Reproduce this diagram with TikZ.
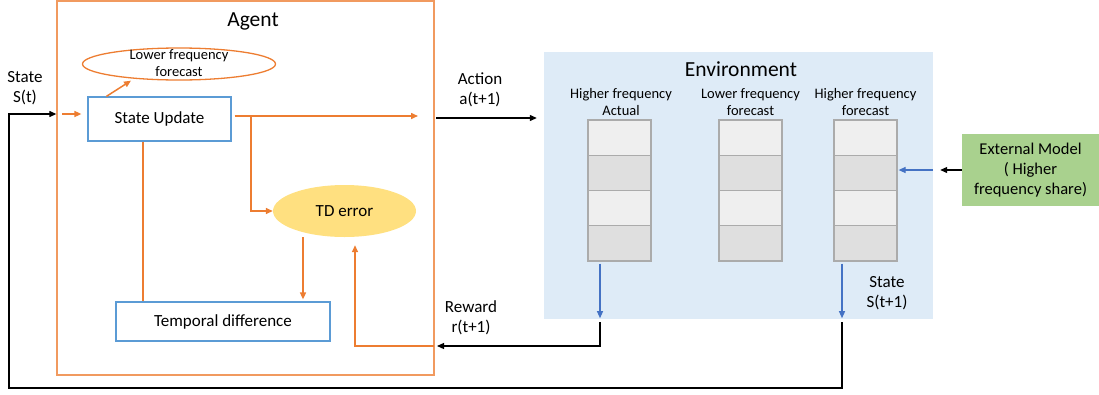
\documentclass[tikz,border=0pt]{standalone}
\usepackage{fontspec}
\setmainfont{Carlito}
\usetikzlibrary{arrows.meta, shapes.geometric}

\definecolor{agentframe}{HTML}{F19A5F}
\definecolor{orangeline}{HTML}{ED7D31}
\definecolor{boxblue}{HTML}{5B9BD5}
\definecolor{arrowblue}{HTML}{4472C4}
\definecolor{tdfill}{HTML}{FFE080}
\definecolor{envfill}{HTML}{DEEBF7}
\definecolor{cellA}{HTML}{EFEFEF}
\definecolor{cellB}{HTML}{DFDFDF}
\definecolor{cellline}{HTML}{ABABAB}
\definecolor{extfill}{HTML}{A9D18E}

\newcommand{\bigtxt}{\fontsize{21.5}{25}\selectfont}
\newcommand{\midtxt}{\fontsize{17}{20}\selectfont}
\newcommand{\smalltxt}{\fontsize{14.5}{17}\selectfont}

\tikzset{
  frame/.style={draw=agentframe, line width=1.3pt, inner sep=0pt},
  bluebox/.style={draw=boxblue, line width=1.2pt, fill=white, inner sep=0pt, font=\midtxt},
  cell/.style={draw=cellline, line width=1.2pt, minimum width=63pt, minimum height=35.25pt, inner sep=0pt},
  lbl/.style={align=center, inner sep=0pt},
  oline/.style={draw=orangeline, line width=1.5pt},
  oarrow/.style={oline, -{Triangle[length=7pt,width=6pt]}},
  barrow/.style={draw=black, line width=1.2pt, -{Triangle[length=7pt,width=6pt]}},
  blarrow/.style={draw=arrowblue, line width=1.2pt, -{Triangle[length=7pt,width=6pt]}},
}

\begin{document}
\begin{tikzpicture}[x=1pt, y=-1pt]
\useasboundingbox (0,0) rectangle (1099,394);

% agent side
\node [frame, minimum width=377pt, minimum height=374pt] (agent) at (245.5, 188) {};
\node [lbl, font=\bigtxt] (agenttitle) at (253, 21) {Agent};
\node [draw=orangeline, line width=1.3pt, ellipse, minimum width=193pt, minimum height=32pt, inner sep=0pt] (lff) at (179, 64) {};
\node [lbl, font=\smalltxt] (lfftxt) at (179, 63) {Lower frequency\\forecast};
\node [bluebox, minimum width=143pt, minimum height=44pt] (su) at (159.5, 119) {State Update};
\node [ellipse, fill=tdfill, minimum width=143pt, minimum height=52pt, inner sep=0pt, font=\midtxt] (td) at (344.5, 211) {TD error};
\node [bluebox, minimum width=214pt, minimum height=39pt] (tdiff) at (223, 321.5) {Temporal difference};

% environment side
\node [fill=envfill, minimum width=389pt, minimum height=267pt, inner sep=0pt] (env) at (738.5, 185.5) {};
\node [lbl, font=\bigtxt] (envtitle) at (741, 69) {Environment};
\node [lbl, font=\smalltxt] (hacttxt) at (621, 102) {Higher frequency\\Actual};
\node [lbl, font=\smalltxt] (lfctxt) at (750.5, 102) {Lower frequency\\forecast};
\node [lbl, font=\smalltxt] (hfctxt) at (865.5, 102) {Higher frequency\\forecast};
\foreach \cx/\cn in {619.5/hact, 750.5/lfc, 865.5/hfc}
  \foreach \r/\shade in {1/cellA, 2/cellB, 3/cellA, 4/cellB}
    \node [cell, fill=\shade] (\cn\r) at (\cx, {102.375+35.25*\r}) {};
\node [fill=extfill, minimum width=137pt, minimum height=72pt, inner sep=0pt, align=center, font=\fontsize{16.5}{20}\selectfont] (ext) at (1030.5, 170) {External Model\\( Higher\\frequency share)};

% labels
\node [lbl, font=\midtxt] (stlbl) at (25, 88) {State\\S(t)};
\node [lbl, font=\midtxt] (actlbl) at (480, 90) {Action\\a(t+1)};
\node [lbl, font=\midtxt] (rwdlbl) at (471, 318) {Reward\\r(t+1)};
\node [lbl, font=\midtxt] (st1lbl) at (887, 293) {State\\S(t+1)};

\coordinate (sin) at (62, 114);
\coordinate (aout) at (418, 116);
\coordinate (br) at (251, 116);
\coordinate (ain) at (436, 118);
\coordinate (rin) at (434, 346);
\coordinate (rout) at (600, 322);
\coordinate (sout) at (842, 322);
\coordinate (loop) at (9, 388);

% agent connectors
\draw [oarrow] (sin) -- ([xshift=-6pt]su.west |- sin);
\draw [oarrow] ([xshift=19pt]su.north west) -- ([xshift=-48pt]lff.south);
\draw [oline] ([xshift=3pt]su.east |- aout) -- (br);
\draw [oarrow] (br) -- (aout);
\draw [oarrow] (br) |- (td.west);
\draw [oarrow] ([xshift=-41.5pt]td.south) -- ([xshift=-41.5pt, yshift=2pt]td.south |- tdiff.north);
\draw [oline] ([xshift=-16.5pt]su.south) -- ([xshift=-16.5pt]su.south |- tdiff.north);
\draw [oarrow] (rin) -| ([xshift=10.5pt, yshift=-8pt]td.south);

% environment connectors
\draw [barrow] (ain) -- ([xshift=-7pt]env.west |- ain);
\draw [blarrow] ([xshift=-19.5pt, yshift=-2pt]hact4.south) -- ([xshift=-19.5pt, yshift=1pt]hact4.south |- env.south);
\draw [blarrow] ([xshift=-23.5pt, yshift=-2pt]hfc4.south) -- ([xshift=-23.5pt, yshift=1pt]hfc4.south |- env.south);
\draw [blarrow] (env.east |- ext) -- ([xshift=1pt]hfc2.east |- ext);
\draw [barrow] (ext.west) -- ([xshift=7pt]env.east |- ext);

% feedback loops
\draw [barrow] (rout) |- ([xshift=3pt]rin);
\draw [barrow] (sout) |- (loop) |- (agent.west |- sin);

\end{tikzpicture}
\end{document}
